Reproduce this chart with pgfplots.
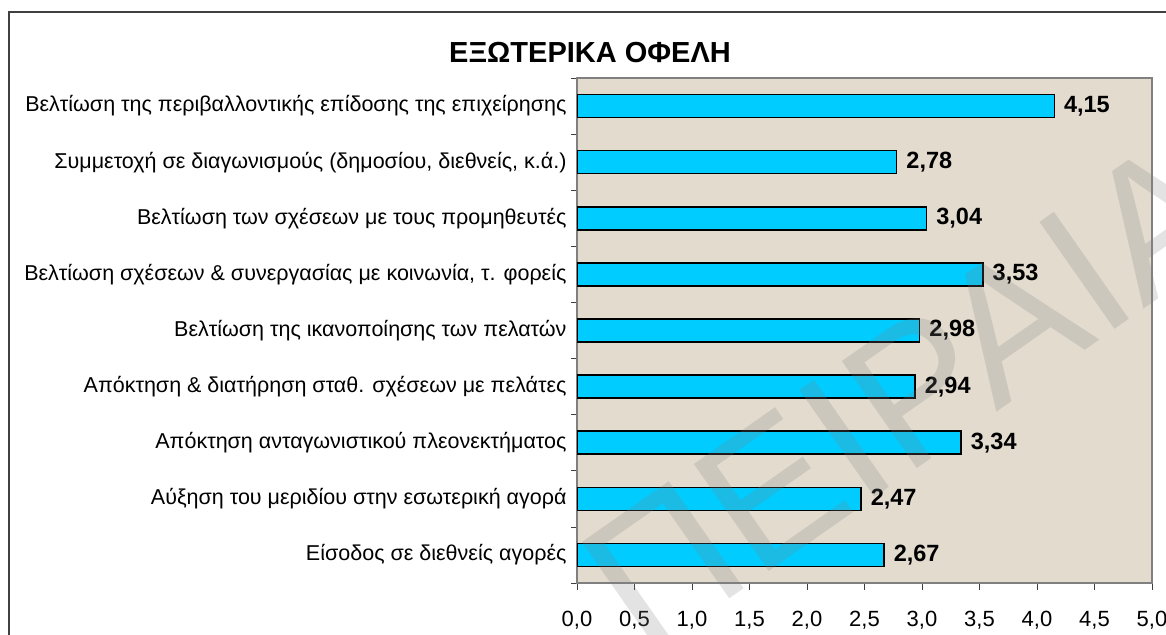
\documentclass[border=0pt]{standalone}
\usepackage{pgfplots}
\pgfplotsset{compat=1.18}
\usepackage{fontspec}
\setmainfont{Liberation Sans}
\definecolor{barcyan}{RGB}{0,204,255}
\definecolor{bgbeige}{RGB}{226,219,206}
\definecolor{axgray}{RGB}{128,128,128}
\definecolor{frame}{RGB}{64,64,64}
\begin{document}
\begin{tikzpicture}
\useasboundingbox (0,0) rectangle (1166bp,-635bp);
\fill[white] (0,0) rectangle (1166bp,-635bp);
\draw[frame, line width=2bp] (9bp,-640bp) -- (9bp,-12bp) -- (1170bp,-12bp);
\node[font=\bfseries\fontsize{29bp}{34bp}\selectfont] at (590bp,-53bp) {ΕΞΩΤΕΡΙΚΑ ΟΦΕΛΗ};
\begin{axis}[
  at={(577bp,-583bp)}, anchor=south west,
  width=575bp, height=505bp, scale only axis,
  xbar, bar width=23bp,
  xmin=0, xmax=5, ymin=0.5, ymax=9.5, y dir=reverse,
  axis background/.style={fill=bgbeige},
  axis line style={axgray, line width=1.2bp},
  xtick={0,0.5,...,5},
  xtick pos=bottom, ytick pos=left,
  tick align=outside,
  major tick length=7bp,
  minor tick length=6bp,
  every tick/.style={frame, line width=0.8bp},
  xticklabel style={font=\fontsize{22bp}{26bp}\selectfont, yshift=-18bp},
  /pgf/number format/assume math mode=true,
  /pgf/number format/.cd, use comma, fixed, fixed zerofill, precision=1, 1000 sep={},
  /pgfplots/.cd,
  ytick={1,...,9},
  yticklabels={
    Βελτίωση της περιβαλλοντικής επίδοσης της επιχείρησης,
    {Συμμετοχή σε διαγωνισμούς (δημοσίου, διεθνείς, κ.ά.)},
    Βελτίωση των σχέσεων με τους προμηθευτές,
    {Βελτίωση σχέσεων \& συνεργασίας με κοινωνία, τ. φορείς},
    Βελτίωση της ικανοποίησης των πελατών,
    Απόκτηση \& διατήρηση σταθ. σχέσεων με πελάτες,
    Απόκτηση ανταγωνιστικού πλεονεκτήματος,
    Αύξηση του μεριδίου στην εσωτερική αγορά,
    Είσοδος σε διεθνείς αγορές},
  major y tick style={draw=none},
  minor ytick={0.5,1.5,...,9.5},
  yticklabel style={font=\fontsize{21.5bp}{25bp}\selectfont, xshift=0bp},
  point meta=x,
  nodes near coords={\pgfmathprintnumber[assume math mode=true,use comma,fixed,fixed zerofill,precision=2]{\pgfplotspointmeta}},
  nodes near coords style={font=\bfseries\fontsize{23.5bp}{27bp}\selectfont, anchor=west, inner sep=0pt, xshift=9bp, text=black},
]
\addplot[fill=barcyan, draw=black, line width=1.5bp] coordinates {
  (4.15,1) (2.78,2) (3.04,3) (3.53,4) (2.98,5) (2.94,6) (3.34,7) (2.47,8) (2.67,9)
};
\end{axis}
\node[rotate=35, text=gray, opacity=0.22, font=\fontsize{190bp}{190bp}\selectfont, anchor=base east] at (1250bp,-235bp) {ΠΕΙΡΑΙΑ};
\end{tikzpicture}
\end{document}
